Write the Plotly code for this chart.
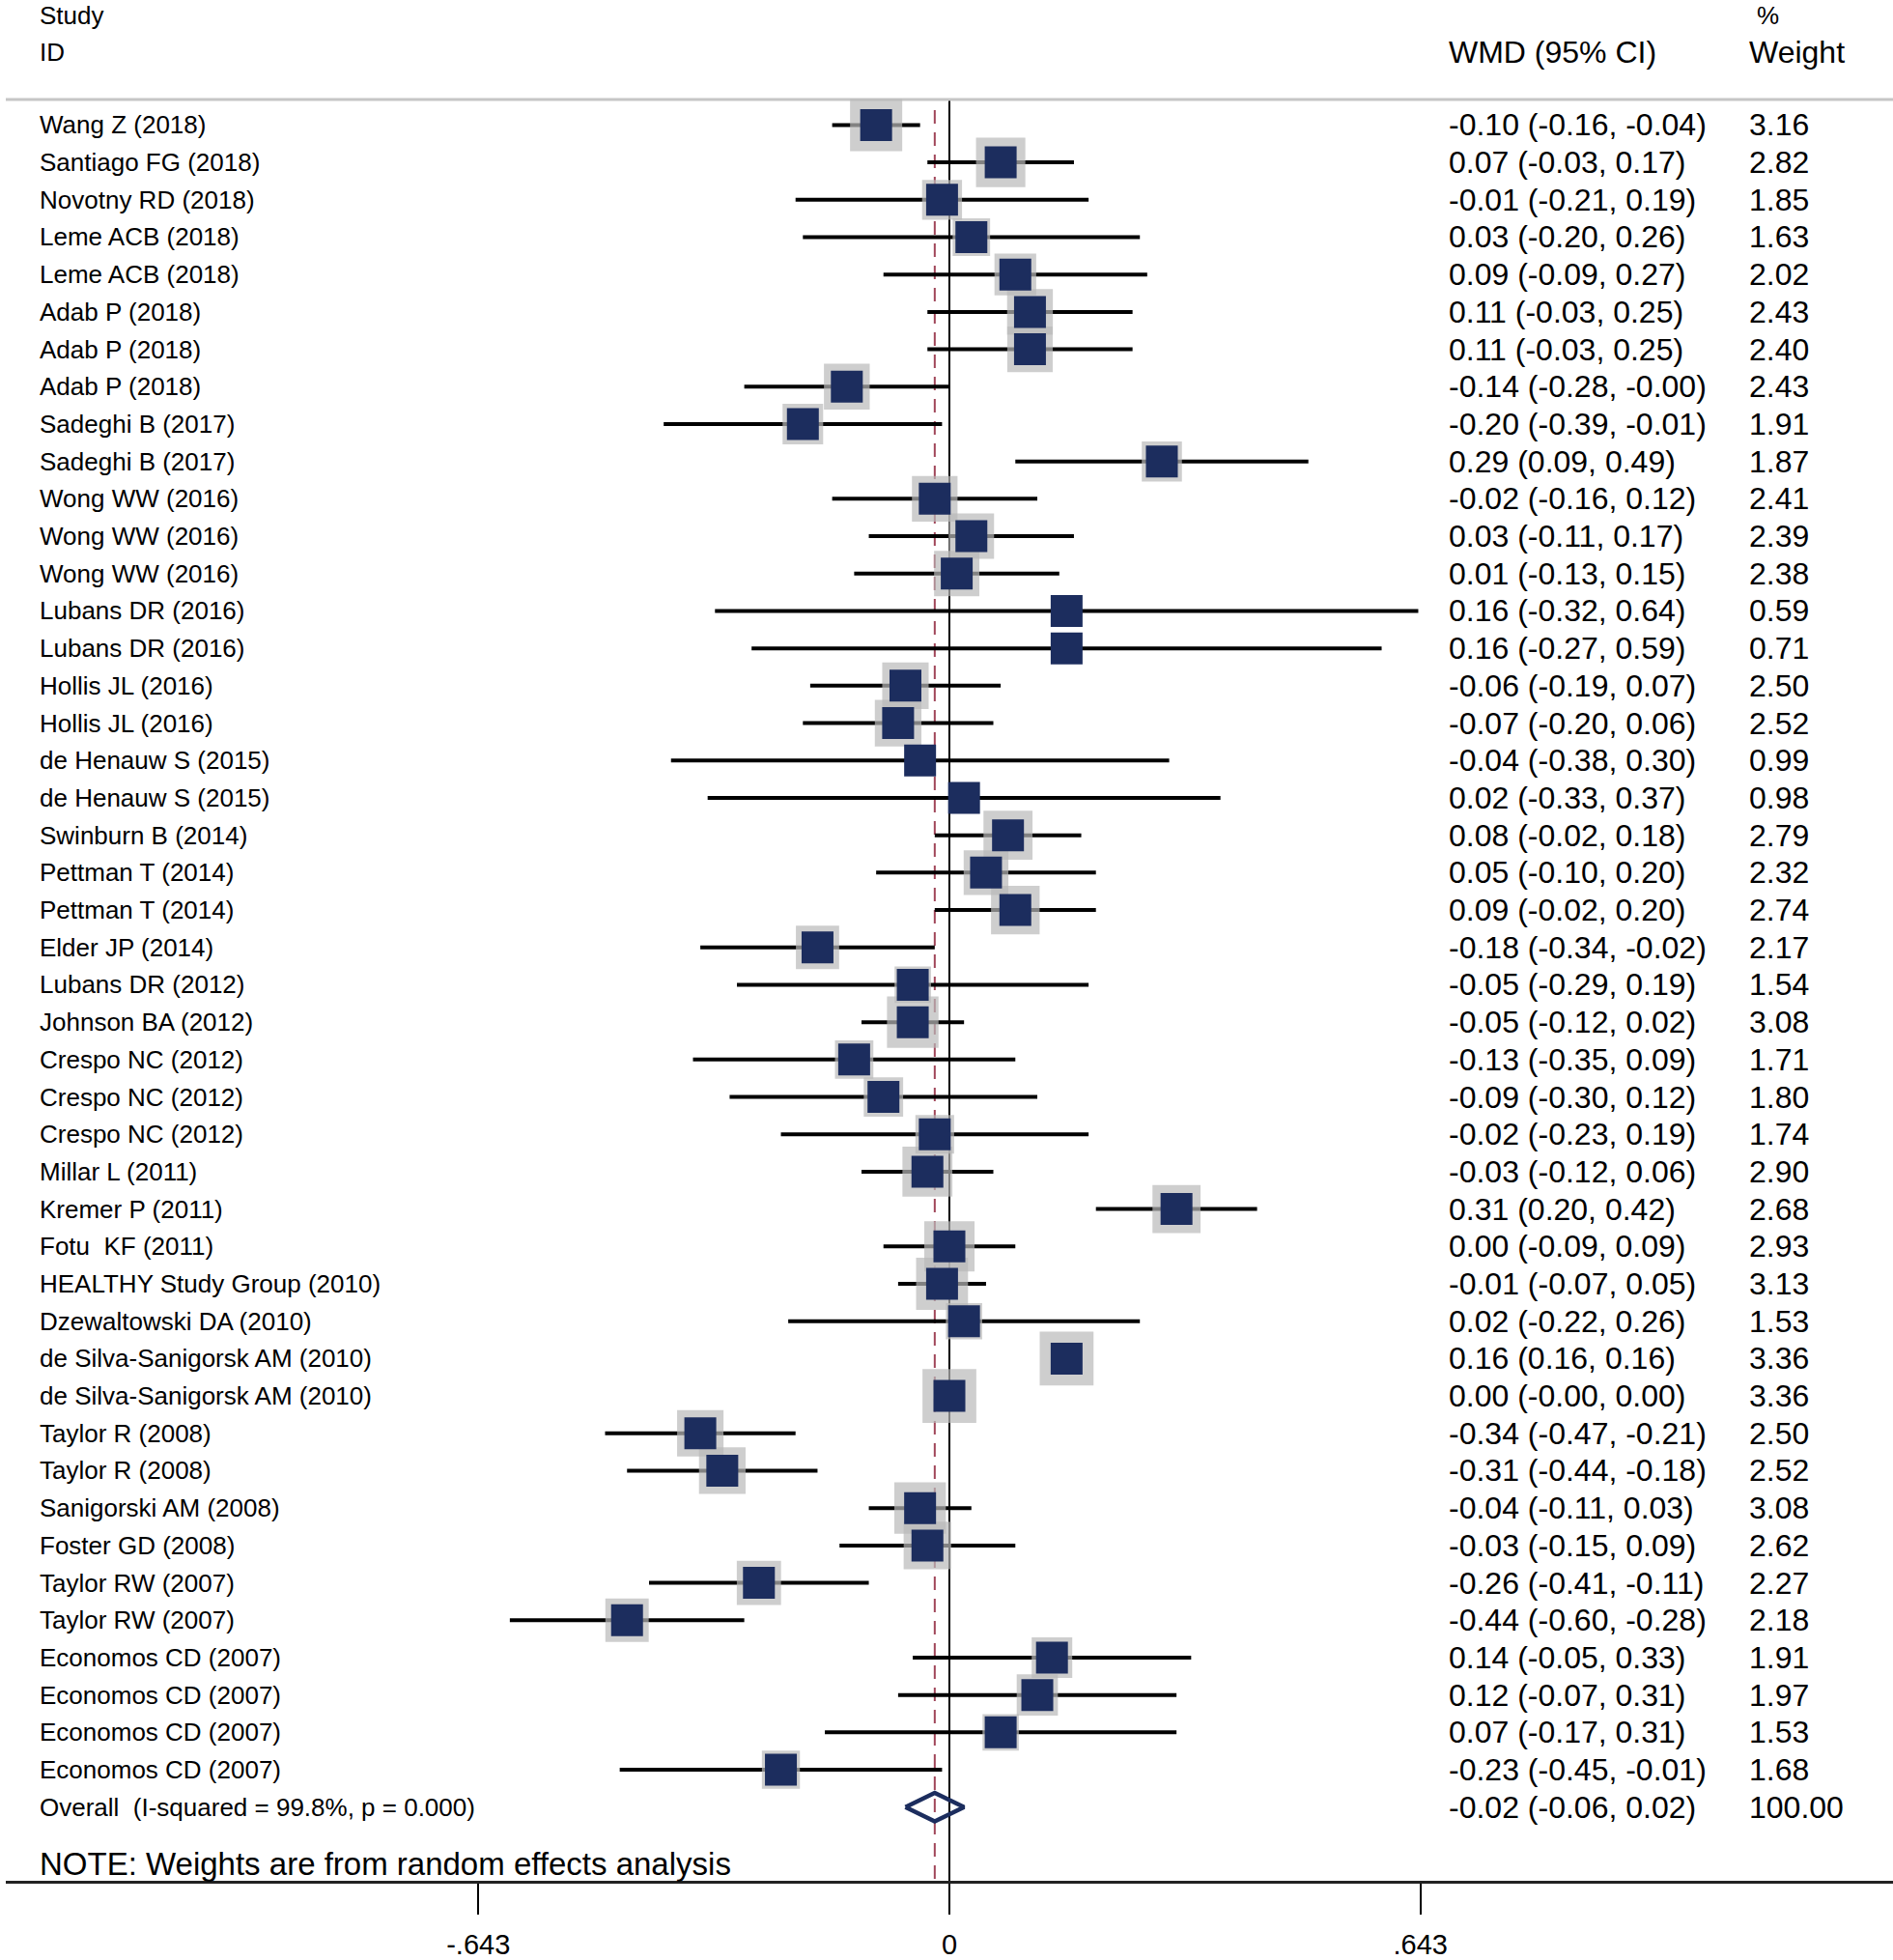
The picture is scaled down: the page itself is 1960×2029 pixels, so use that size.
"""
Forest plot: WMD (95% CI) per study, random effects weights
"""
import plotly.graph_objects as go

# ---- data ----
studies = [
    'Wang Z (2018)', 'Santiago FG (2018)', 'Novotny RD (2018)', 'Leme ACB (2018)',
    'Leme ACB (2018)', 'Adab P (2018)', 'Adab P (2018)', 'Adab P (2018)',
    'Sadeghi B (2017)', 'Sadeghi B (2017)', 'Wong WW (2016)', 'Wong WW (2016)',
    'Wong WW (2016)', 'Lubans DR (2016)', 'Lubans DR (2016)', 'Hollis JL (2016)',
    'Hollis JL (2016)', 'de Henauw S (2015)', 'de Henauw S (2015)', 'Swinburn B (2014)',
    'Pettman T (2014)', 'Pettman T (2014)', 'Elder JP (2014)', 'Lubans DR (2012)',
    'Johnson BA (2012)', 'Crespo NC (2012)', 'Crespo NC (2012)', 'Crespo NC (2012)',
    'Millar L (2011)', 'Kremer P (2011)', 'Fotu  KF (2011)', 'HEALTHY Study Group (2010)',
    'Dzewaltowski DA (2010)', 'de Silva-Sanigorsk AM (2010)', 'de Silva-Sanigorsk AM (2010)',
    'Taylor R (2008)', 'Taylor R (2008)', 'Sanigorski AM (2008)', 'Foster GD (2008)',
    'Taylor RW (2007)', 'Taylor RW (2007)', 'Economos CD (2007)', 'Economos CD (2007)',
    'Economos CD (2007)', 'Economos CD (2007)',
]
wmd = [-0.10, 0.07, -0.01, 0.03, 0.09, 0.11, 0.11, -0.14, -0.20, 0.29, -0.02, 0.03,
       0.01, 0.16, 0.16, -0.06, -0.07, -0.04, 0.02, 0.08, 0.05, 0.09, -0.18, -0.05,
       -0.05, -0.13, -0.09, -0.02, -0.03, 0.31, 0.00, -0.01, 0.02, 0.16, 0.00,
       -0.34, -0.31, -0.04, -0.03, -0.26, -0.44, 0.14, 0.12, 0.07, -0.23]
ci_low = [-0.16, -0.03, -0.21, -0.20, -0.09, -0.03, -0.03, -0.28, -0.39, 0.09, -0.16, -0.11,
          -0.13, -0.32, -0.27, -0.19, -0.20, -0.38, -0.33, -0.02, -0.10, -0.02, -0.34, -0.29,
          -0.12, -0.35, -0.30, -0.23, -0.12, 0.20, -0.09, -0.07, -0.22, 0.16, -0.00,
          -0.47, -0.44, -0.11, -0.15, -0.41, -0.60, -0.05, -0.07, -0.17, -0.45]
ci_high = [-0.04, 0.17, 0.19, 0.26, 0.27, 0.25, 0.25, -0.00, -0.01, 0.49, 0.12, 0.17,
           0.15, 0.64, 0.59, 0.07, 0.06, 0.30, 0.37, 0.18, 0.20, 0.20, -0.02, 0.19,
           0.02, 0.09, 0.12, 0.19, 0.06, 0.42, 0.09, 0.05, 0.26, 0.16, 0.00,
           -0.21, -0.18, 0.03, 0.09, -0.11, -0.28, 0.33, 0.31, 0.31, -0.01]
weights = [3.16, 2.82, 1.85, 1.63, 2.02, 2.43, 2.40, 2.43, 1.91, 1.87, 2.41, 2.39,
           2.38, 0.59, 0.71, 2.50, 2.52, 0.99, 0.98, 2.79, 2.32, 2.74, 2.17, 1.54,
           3.08, 1.71, 1.80, 1.74, 2.90, 2.68, 2.93, 3.13, 1.53, 3.36, 3.36,
           2.50, 2.52, 3.08, 2.62, 2.27, 2.18, 1.91, 1.97, 1.53, 1.68]

overall_label = 'Overall  (I-squared = 99.8%, p = 0.000)'
overall_est, overall_low, overall_high = -0.02, -0.06, 0.02
overall_weight = '100.00'

tick_vals = [-0.643, 0, 0.643]
tick_text = ['-.643', '0', '.643']

NAVY = '#1c2d5e'
GREY = '#b9b9b9'
FONT = 'Liberation Sans, Arial, sans-serif'

rows = list(range(1, len(studies) + 1))
overall_row = len(studies) + 1

fig = go.Figure()

# CI whiskers
ci_x, ci_y = [], []
for r, lo, hi in zip(rows, ci_low, ci_high):
    ci_x += [lo, hi, None]
    ci_y += [r, r, None]
fig.add_trace(go.Scatter(x=ci_x, y=ci_y, mode='lines',
                         line=dict(color='black', width=4), hoverinfo='skip'))

# weight boxes (area ~ weight) and point estimates
fig.add_trace(go.Scatter(
    x=wmd, y=rows, mode='markers',
    marker=dict(symbol='square', color=GREY, size=[30.4 * w ** 0.5 for w in weights],
                line=dict(width=0)),
    hoverinfo='skip'))
fig.add_trace(go.Scatter(
    x=wmd, y=rows, mode='markers',
    marker=dict(symbol='square', color=NAVY, size=33, line=dict(width=0)),
    hoverinfo='skip'))

# overall diamond
h = 0.38
fig.add_trace(go.Scatter(
    x=[overall_low, overall_est, overall_high, overall_est, overall_low],
    y=[overall_row, overall_row - h, overall_row, overall_row + h, overall_row],
    mode='lines', line=dict(color=NAVY, width=4.5), hoverinfo='skip'))

# reference lines
fig.add_shape(type='line', x0=0, x1=0, y0=0.32, y1=47.97, layer='below',
              line=dict(color='black', width=2))
fig.add_shape(type='line', x0=overall_est, x1=overall_est, y0=0.6, y1=47.97, layer='below',
              line=dict(color='#a0465a', width=2, dash='14px,9px'))
fig.add_shape(type='line', x0=-1.288, x1=1.288, y0=0.32, y1=0.32, layer='below',
              line=dict(color='#c6c6c6', width=3))

# text columns
x_label, x_wmd, x_wt = -1.2446, 0.679, 1.089
ann = []
def txt(x, y, s, size):
    ann.append(dict(x=x, y=y, xref='x', yref='y', text=s, showarrow=False,
                    xanchor='left', yanchor='middle',
                    font=dict(family=FONT, size=size, color='black')))

txt(x_label, -1.94, 'Study', 26)
txt(x_label, -0.95, 'ID', 26)
txt(x_wmd, -0.95, 'WMD (95% CI)', 32)
txt(x_wt + 0.01, -1.92, '%', 26)
txt(x_wt, -0.95, 'Weight', 32)

for r, s, e, lo, hi, w in zip(rows, studies, wmd, ci_low, ci_high, weights):
    txt(x_label, r, s, 26)
    lo_s = '-0.00' if lo == 0 and hi == 0 and e == 0 else f'{lo:.2f}'
    txt(x_wmd, r, f'{e:.2f} ({lo_s}, {hi:.2f})', 32)
    txt(x_wt, r, f'{w:.2f}', 32)

txt(x_label, overall_row, overall_label, 26)
txt(x_wmd, overall_row, f'{overall_est:.2f} ({overall_low:.2f}, {overall_high:.2f})', 32)
txt(x_wt, overall_row, overall_weight, 32)
txt(x_label, 47.53, 'NOTE: Weights are from random effects analysis', 33)

fig.update_layout(
    width=1960, height=2029,
    margin=dict(l=6, r=0, t=0, b=82),
    paper_bgcolor='white', plot_bgcolor='white',
    showlegend=False,
    annotations=ann,
    xaxis=dict(range=[-1.288, 1.288], showgrid=False, zeroline=False,
               showline=True, linecolor='#222222', linewidth=3,
               ticks='outside', ticklen=32, tickwidth=2, tickcolor='black',
               tickvals=tick_vals, ticktext=tick_text, ticklabelstandoff=6,
               tickfont=dict(family=FONT, size=29, color='black')),
    yaxis=dict(range=[47.97, -2.344], visible=False, showgrid=False, zeroline=False),
)

# page has a default body margin; drop it so the figure sits at the window's corner
fig.write_html('out.html', config={'displayModeBar': False},
               post_script="document.body.style.margin='0';")
